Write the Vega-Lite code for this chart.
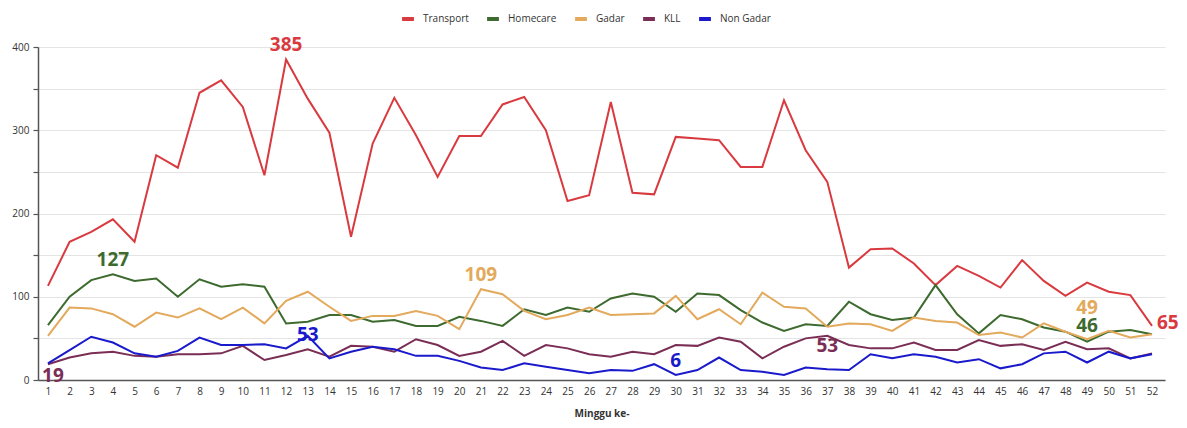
{
  "$schema": "https://vega.github.io/schema/vega-lite/v6.json",
  "autosize": {"type": "none"},
  "width": 1127,
  "height": 333,
  "padding": {"left": 38, "top": 47, "right": 22, "bottom": 48},
  "background": "white",
  "config": {
    "font": "Open Sans",
    "view": {"stroke": null}
  },
  "data": {
    "values": [
      {"w":1,"Transport":113,"Homecare":66,"Gadar":53,"KLL":19,"Non Gadar":20},
      {"w":2,"Transport":166,"Homecare":100,"Gadar":87,"KLL":27,"Non Gadar":36},
      {"w":3,"Transport":178,"Homecare":120,"Gadar":86,"KLL":32,"Non Gadar":52},
      {"w":4,"Transport":193,"Homecare":127,"Gadar":79,"KLL":34,"Non Gadar":45},
      {"w":5,"Transport":166,"Homecare":119,"Gadar":64,"KLL":29,"Non Gadar":32},
      {"w":6,"Transport":270,"Homecare":122,"Gadar":81,"KLL":28,"Non Gadar":28},
      {"w":7,"Transport":255,"Homecare":100,"Gadar":75,"KLL":31,"Non Gadar":35},
      {"w":8,"Transport":345,"Homecare":121,"Gadar":86,"KLL":31,"Non Gadar":51},
      {"w":9,"Transport":360,"Homecare":112,"Gadar":73,"KLL":32,"Non Gadar":42},
      {"w":10,"Transport":328,"Homecare":115,"Gadar":87,"KLL":41,"Non Gadar":42},
      {"w":11,"Transport":246,"Homecare":112,"Gadar":68,"KLL":24,"Non Gadar":43},
      {"w":12,"Transport":385,"Homecare":68,"Gadar":95,"KLL":30,"Non Gadar":38},
      {"w":13,"Transport":338,"Homecare":70,"Gadar":106,"KLL":37,"Non Gadar":53},
      {"w":14,"Transport":297,"Homecare":78,"Gadar":88,"KLL":28,"Non Gadar":26},
      {"w":15,"Transport":172,"Homecare":78,"Gadar":71,"KLL":41,"Non Gadar":34},
      {"w":16,"Transport":284,"Homecare":70,"Gadar":77,"KLL":40,"Non Gadar":40},
      {"w":17,"Transport":339,"Homecare":72,"Gadar":77,"KLL":34,"Non Gadar":37},
      {"w":18,"Transport":294,"Homecare":65,"Gadar":83,"KLL":49,"Non Gadar":29},
      {"w":19,"Transport":244,"Homecare":65,"Gadar":77,"KLL":42,"Non Gadar":29},
      {"w":20,"Transport":293,"Homecare":76,"Gadar":61,"KLL":29,"Non Gadar":23},
      {"w":21,"Transport":293,"Homecare":71,"Gadar":109,"KLL":34,"Non Gadar":15},
      {"w":22,"Transport":331,"Homecare":65,"Gadar":103,"KLL":47,"Non Gadar":12},
      {"w":23,"Transport":340,"Homecare":85,"Gadar":83,"KLL":29,"Non Gadar":20},
      {"w":24,"Transport":300,"Homecare":78,"Gadar":73,"KLL":42,"Non Gadar":16},
      {"w":25,"Transport":215,"Homecare":87,"Gadar":78,"KLL":38,"Non Gadar":12},
      {"w":26,"Transport":222,"Homecare":82,"Gadar":87,"KLL":31,"Non Gadar":8},
      {"w":27,"Transport":334,"Homecare":98,"Gadar":78,"KLL":28,"Non Gadar":12},
      {"w":28,"Transport":225,"Homecare":104,"Gadar":79,"KLL":34,"Non Gadar":11},
      {"w":29,"Transport":223,"Homecare":100,"Gadar":80,"KLL":31,"Non Gadar":19},
      {"w":30,"Transport":292,"Homecare":82,"Gadar":101,"KLL":42,"Non Gadar":6},
      {"w":31,"Transport":290,"Homecare":104,"Gadar":73,"KLL":41,"Non Gadar":12},
      {"w":32,"Transport":288,"Homecare":102,"Gadar":85,"KLL":51,"Non Gadar":27},
      {"w":33,"Transport":256,"Homecare":84,"Gadar":67,"KLL":46,"Non Gadar":12},
      {"w":34,"Transport":256,"Homecare":69,"Gadar":105,"KLL":26,"Non Gadar":10},
      {"w":35,"Transport":336,"Homecare":59,"Gadar":88,"KLL":40,"Non Gadar":6},
      {"w":36,"Transport":276,"Homecare":67,"Gadar":86,"KLL":50,"Non Gadar":15},
      {"w":37,"Transport":238,"Homecare":65,"Gadar":64,"KLL":53,"Non Gadar":13},
      {"w":38,"Transport":135,"Homecare":94,"Gadar":68,"KLL":42,"Non Gadar":12},
      {"w":39,"Transport":157,"Homecare":79,"Gadar":67,"KLL":38,"Non Gadar":31},
      {"w":40,"Transport":158,"Homecare":72,"Gadar":59,"KLL":38,"Non Gadar":26},
      {"w":41,"Transport":140,"Homecare":75,"Gadar":75,"KLL":45,"Non Gadar":31},
      {"w":42,"Transport":114,"Homecare":114,"Gadar":71,"KLL":36,"Non Gadar":28},
      {"w":43,"Transport":137,"Homecare":79,"Gadar":69,"KLL":36,"Non Gadar":21},
      {"w":44,"Transport":125,"Homecare":56,"Gadar":54,"KLL":48,"Non Gadar":25},
      {"w":45,"Transport":111,"Homecare":78,"Gadar":57,"KLL":41,"Non Gadar":14},
      {"w":46,"Transport":144,"Homecare":73,"Gadar":51,"KLL":43,"Non Gadar":19},
      {"w":47,"Transport":119,"Homecare":63,"Gadar":68,"KLL":36,"Non Gadar":32},
      {"w":48,"Transport":101,"Homecare":58,"Gadar":58,"KLL":46,"Non Gadar":34},
      {"w":49,"Transport":117,"Homecare":46,"Gadar":49,"KLL":37,"Non Gadar":21},
      {"w":50,"Transport":106,"Homecare":58,"Gadar":59,"KLL":38,"Non Gadar":34},
      {"w":51,"Transport":102,"Homecare":60,"Gadar":51,"KLL":26,"Non Gadar":26},
      {"w":52,"Transport":65,"Homecare":55,"Gadar":55,"KLL":32,"Non Gadar":31}
    ]
  },
  "transform": [
    {"fold": ["Transport", "Homecare", "Gadar", "KLL", "Non Gadar"], "as": ["series", "value"]}
  ],
  "encoding": {
    "x": {
      "field": "w", "type": "quantitative",
      "scale": {"domain": [0.54, 52.6], "nice": false, "zero": false},
      "axis": {
        "title": "Minggu ke-", "values": [1,2,3,4,5,6,7,8,9,10,11,12,13,14,15,16,17,18,19,20,21,22,23,24,25,26,27,28,29,30,31,32,33,34,35,36,37,38,39,40,41,42,43,44,45,46,47,48,49,50,51,52],
        "format": "d", "grid": false, "ticks": false, "domainColor": "#555", "domainWidth": 1.5,
        "labelFontSize": 10, "labelColor": "#333", "labelPadding": 6, "labelFlush": false, "labelOverlap": false,
        "titleFontSize": 10, "titleFontWeight": "bold", "titleColor": "#333", "titlePadding": 12
      }
    },
    "y": {
      "field": "value", "type": "quantitative",
      "scale": {"domain": [0, 400], "nice": false},
      "axis": {
        "title": null, "values": [0,50,100,150,200,250,300,350,400],
        "labelExpr": "datum.value % 100 == 0 ? datum.label : ''",
        "gridColor": "#e4e4e4", "gridWidth": 1.2, "domainColor": "#555", "domainWidth": 1.5,
        "tickColor": "#555", "tickSize": 5, "tickWidth": 1.2,
        "labelFontSize": 10, "labelColor": "#333", "labelPadding": 4
      }
    },
    "color": {
      "field": "series", "type": "nominal",
      "scale": {
        "domain": ["Transport", "Homecare", "Gadar", "KLL", "Non Gadar"],
        "range": ["#d93a3f", "#3d6a2e", "#e3a95c", "#7a2e55", "#1a1acc"]
      },
      "legend": {
        "title": null, "orient": "none", "direction": "horizontal", "legendX": 362, "legendY": -36,
        "symbolType": "stroke", "symbolStrokeWidth": 4, "symbolSize": 140,
        "labelFontSize": 10, "labelColor": "#333", "labelFontWeight": 500, "columnPadding": 10, "labelOffset": 7
      }
    }
  },
  "layer": [
    {"mark": {"type": "line", "strokeWidth": 2}},
    {
      "transform": [{"filter": "(datum.series=='Transport' && datum.w==12) || (datum.series=='Homecare' && datum.w==4) || (datum.series=='Gadar' && datum.w==21) || (datum.series=='Non Gadar' && datum.w==30)"}],
      "mark": {"type": "text", "baseline": "bottom", "dy": -4, "fontSize": 19, "fontWeight": "bold"},
      "encoding": {"text": {"field": "value", "type": "quantitative"}}
    },
    {
      "transform": [{"filter": "datum.series=='Non Gadar' && datum.w==13"}],
      "mark": {"type": "text", "baseline": "middle", "dy": -1, "fontSize": 19, "fontWeight": "bold"},
      "encoding": {"text": {"field": "value", "type": "quantitative"}}
    },
    {
      "transform": [{"filter": "datum.series=='KLL' && datum.w==1"}],
      "mark": {"type": "text", "baseline": "top", "dy": 3, "dx": 5, "fontSize": 19, "fontWeight": "bold"},
      "encoding": {"text": {"field": "value", "type": "quantitative"}}
    },
    {
      "transform": [{"filter": "datum.series=='KLL' && datum.w==37"}],
      "mark": {"type": "text", "baseline": "top", "dy": 1, "fontSize": 19, "fontWeight": "bold"},
      "encoding": {"text": {"field": "value", "type": "quantitative"}}
    },
    {
      "transform": [{"filter": "datum.series=='Gadar' && datum.w==49"}],
      "mark": {"type": "text", "baseline": "bottom", "dy": -21, "fontSize": 19, "fontWeight": "bold"},
      "encoding": {"text": {"field": "value", "type": "quantitative"}}
    },
    {
      "transform": [{"filter": "datum.series=='Homecare' && datum.w==49"}],
      "mark": {"type": "text", "baseline": "bottom", "dy": -6, "fontSize": 19, "fontWeight": "bold"},
      "encoding": {"text": {"field": "value", "type": "quantitative"}}
    },
    {
      "transform": [{"filter": "datum.series=='Transport' && datum.w==52"}],
      "mark": {"type": "text", "align": "left", "baseline": "middle", "dx": 5, "dy": -3, "fontSize": 19, "fontWeight": "bold"},
      "encoding": {"text": {"field": "value", "type": "quantitative"}}
    }
  ]
}
